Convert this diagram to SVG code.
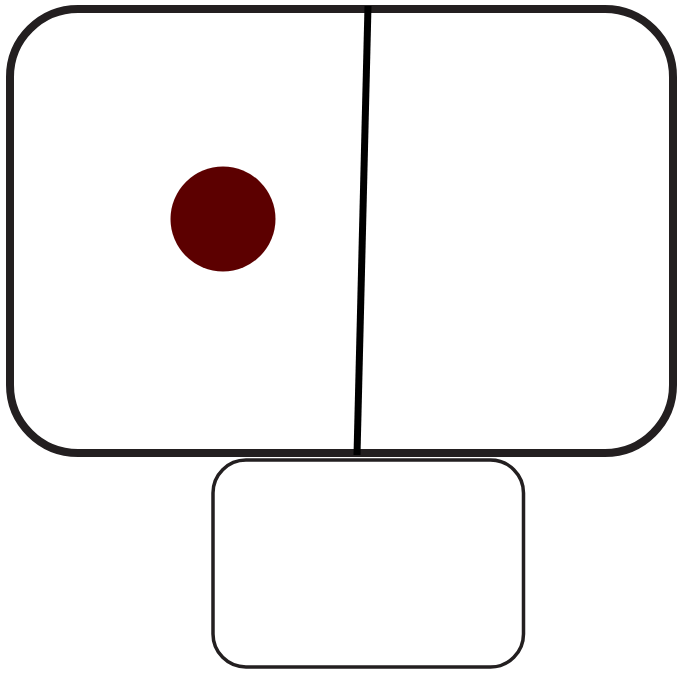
<svg xmlns="http://www.w3.org/2000/svg" width="680" height="676" viewBox="0 0 680 676">
<style>
.frame{fill:#fff;stroke:#231f20}
</style>
<rect width="680" height="676" fill="#fff"/>
<g id="outer"><rect class="frame" x="10" y="9" width="663" height="444" rx="68" ry="68" stroke-width="8"/></g>
<g id="lower"><rect class="frame" x="213" y="460" width="310.5" height="207" rx="33" ry="33" stroke-width="3.5"/></g>
<g id="divider"><line x1="368" y1="6" x2="357" y2="455" stroke="#000" stroke-width="7"/></g>
<g id="dot"><circle cx="223" cy="219" r="52.5" fill="#5c0000"/></g>
</svg>
